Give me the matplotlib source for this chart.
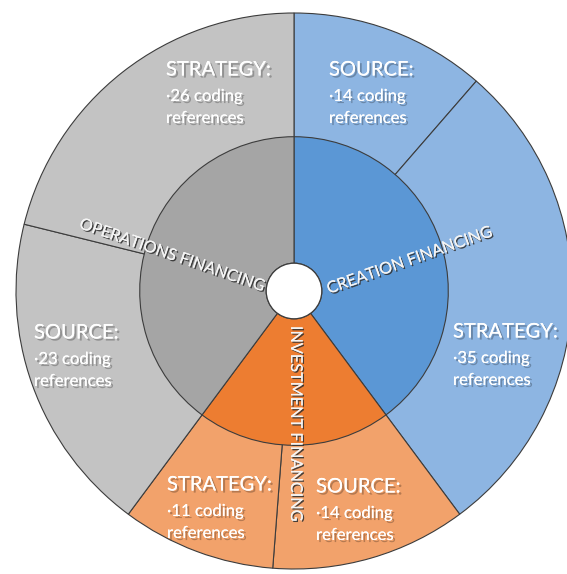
import matplotlib
matplotlib.use("Agg")
import matplotlib.pyplot as plt
import matplotlib.patheffects as pe
from matplotlib.patches import Circle

# inner ring: financing types (clockwise from 12 o'clock)
groups = ["CREATION FINANCING", "INVESTMENT FINANCING", "OPERATIONS FINANCING"]
# outer ring: coding references per sub-category
sub_names = ["SOURCE:", "STRATEGY:", "SOURCE:", "STRATEGY:", "SOURCE:", "STRATEGY:"]
sub_values = [14, 35, 14, 11, 23, 26]
group_values = [sub_values[0] + sub_values[1],
                sub_values[2] + sub_values[3],
                sub_values[4] + sub_values[5]]

inner_colors = ["#5B97D5", "#ED7D31", "#A5A5A5"]
outer_colors = ["#8DB5E2", "#8DB5E2", "#F2A26B", "#F2A26B", "#C3C3C3", "#C3C3C3"]
edge = "#3c3c3c"

W, H = 567, 574
cx, cy, R = 294, 291, 278  # centre and outer radius in pixels

fig = plt.figure(figsize=(W / 100, H / 100), dpi=100)
ax = fig.add_axes([0, 0, 1, 1])

wp = dict(edgecolor=edge, linewidth=0.8)
ax.pie(sub_values, radius=1.0, colors=outer_colors, startangle=90,
       counterclock=False, wedgeprops=dict(width=0.45, **wp))
ax.pie(group_values, radius=0.555, colors=inner_colors, startangle=90,
       counterclock=False, wedgeprops=dict(width=0.455, **wp))
ax.add_patch(Circle((0, 0), 0.1, facecolor="white", edgecolor=edge, lw=0.9, zorder=5))

ax.set_xlim(-cx / R, (W - cx) / R)
ax.set_ylim(-(H - cy) / R, cy / R)
ax.set_aspect("auto")
ax.axis("off")

font = "Lato"
shadow = [pe.withSimplePatchShadow(offset=(1.5, -1.5), shadow_rgbFace="k", alpha=0.25),
          pe.Normal()]

# text block anchors (pixel position of the heading's left/centre)
label_pos = [(329, 70), (453, 332), (316, 487), (167, 485), (34, 333), (166, 70)]
for name, val, (px, py) in zip(sub_names, sub_values, label_pos):
    lines = [(name, 14.5, 0), (f"\u00b7{val} coding", 12, 26), ("references", 12, 48)]
    for txt, fs, dy in lines:
        ax.text(px / W, 1 - (py + dy) / H, txt, transform=ax.transAxes,
                ha="left", va="center", color="white", fontsize=fs,
                family=font, path_effects=shadow)

inner_fx = [pe.withSimplePatchShadow(offset=(1, -1), shadow_rgbFace="#333333", alpha=0.9),
            pe.Normal()]
inner_pos = [(410, 261, 19.5), (295, 424, -90), (172, 256, -19)]
for name, (px, py, rot) in zip(groups, inner_pos):
    ax.text(px / W, 1 - py / H, name, transform=ax.transAxes, rotation=rot,
            rotation_mode="anchor", ha="center", va="center", color="#f4f4f4",
            fontsize=11.7, family=font, path_effects=inner_fx)

fig.savefig("out.png", dpi=100)
